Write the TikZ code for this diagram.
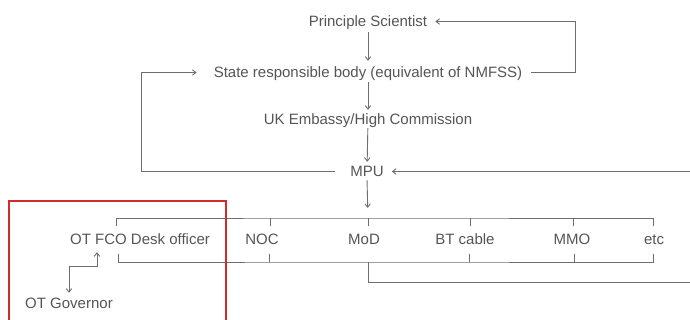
\documentclass[tikz,border=0pt]{standalone}
\usepackage{fontspec}
\setmainfont{Liberation Sans}
\usetikzlibrary{arrows.meta}
\definecolor{txt}{HTML}{555555}
\definecolor{lncol}{HTML}{6E6E6E}
\definecolor{redbox}{HTML}{D42A2A}
\begin{document}
\begin{tikzpicture}[x=1pt,y=-1pt,
  lbl/.style={font=\fontsize{15}{18}\selectfont, text=txt, inner sep=0pt,
              text height=13pt, text depth=2pt, anchor=base},
  ln/.style={draw=lncol, line width=0.9pt},
  tip/.tip={Straight Barb[length=3.5pt,width=5.5pt]},
  arr/.style={ln, -tip},
  darr/.style={ln, tip-tip}]
\useasboundingbox (0,0) rectangle (690,320);
\clip (0,0) rectangle (690,320);
% helper coordinates
\coordinate (lloop) at (141,0);
\coordinate (rloop) at (575,0);
\coordinate (redge) at (690,0);
\coordinate (xgov) at (97,0);
% main chain
\node[lbl] (ps)  at (368,27)  {Principle Scientist};
\node[lbl] (srb) at (368,78)  {State responsible body (equivalent of NMFSS)};
\node[lbl] (uk)  at (368,125) {UK Embassy/High Commission};
\node[lbl] (mpu) at (367,177) {MPU};
% recipients
\node[lbl] (fco) at (140,244) {OT FCO Desk officer};
\node[lbl] (noc) at (262,244) {NOC};
\node[lbl] (mod) at (364,244) {MoD};
\node[lbl] (bt)  at (465,244) {BT cable};
\node[lbl] (mmo) at (572,244) {MMO};
\node[lbl] (etc) at (654,244) {etc};
\node[lbl] (gov) at (69,308)  {OT Governor};
% bracket coordinates
\coordinate (tb) at (368,218);
\coordinate (bb) at (368,262);
% vertical arrows
\draw[arr, shorten <=3pt, shorten >=4pt] (ps) -- (srb);
\draw[arr, shorten <=2pt, shorten >=2pt] (srb) -- (uk);
\draw[arr, shorten <=1pt, shorten >=2pt] (uk) -- (mpu);
\draw[arr, shorten <=1pt, shorten >=10pt] (mpu.south) -- (tb);
% loops
\draw[arr] ([xshift=-15pt]mpu.west) -| (lloop |- srb.west) -- ([xshift=-17pt]srb.west);
\draw[arr] ([xshift=9pt]srb.east) -| (rloop |- ps.east) -- ([xshift=8pt]ps.east);
\draw[arr] (redge |- mpu.east) -- ([xshift=8pt]mpu.east);
% top bracket
\draw[ln] (116,226) -- (116,218) -- (tb) -- (653,218) -- (653,226);
\foreach \x in {270,368,470,573} \draw[ln] (\x,218) -- (\x,226);
% bottom bracket
\draw[ln] (118,254) -- (118,262) -- (bb) -- (653,262) -- (653,254);
\foreach \x in {269,469,574} \draw[ln] (\x,262) -- (\x,254);
\draw[ln] (bb) -- (368,282) -- (redge |- 0,282);
% governor link
\draw[darr, shorten <=2pt, shorten >=6pt] (gov.north) -- ++(0,-28) -| (xgov |- fco.south);
% red box
\draw[redbox, line width=2pt] (9,330) -- (9,201) -- (226,201) -- (226,330);
\end{tikzpicture}
\end{document}
